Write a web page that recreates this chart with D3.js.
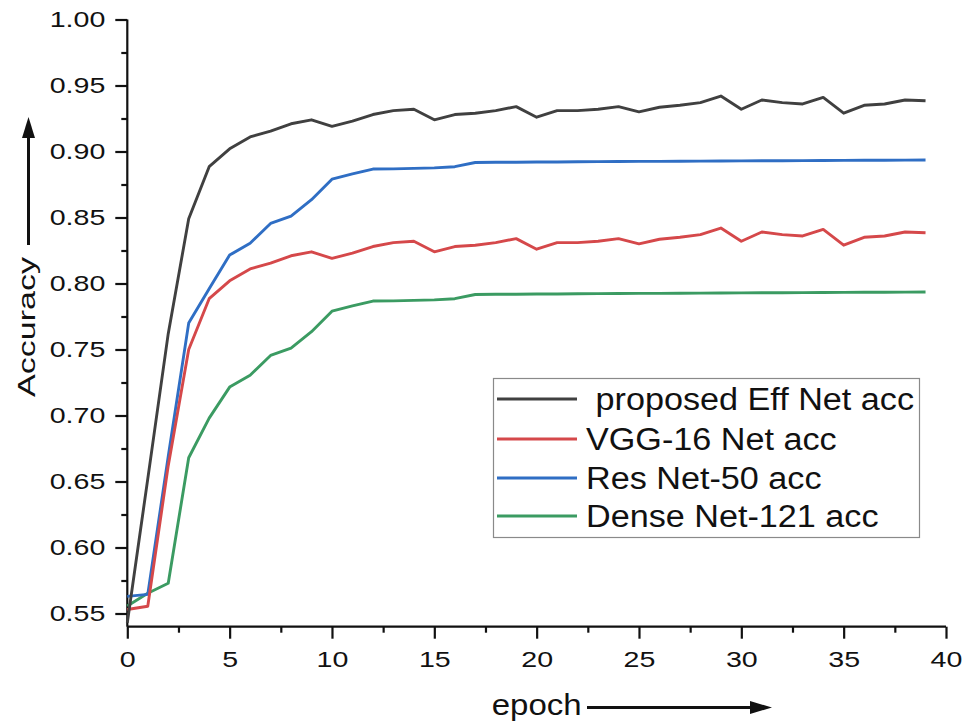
<!DOCTYPE html>
<html>
<head>
<meta charset="utf-8">
<script src="https://cdn.jsdelivr.net/npm/d3@7"></script>
<style>
  html, body { margin: 0; padding: 0; background: #fff; }
  svg { display: block; font-family: "Liberation Sans", Arial, Helvetica, sans-serif; }
</style>
</head>
<body>
<svg id="chart" width="968" height="725"></svg>
<script>
const epochs = d3.range(0, 40);
const seriesNames = [" proposed Eff Net acc", "VGG-16 Net acc", "Res Net-50 acc", "Dense Net-121 acc"];
const seriesColors = ["#404040", "#d5484a", "#2f6ec4", "#3b9b62"];

const effNet = [0.543, 0.652, 0.762, 0.849, 0.8885, 0.902, 0.911, 0.9155, 0.921, 0.924,
  0.919, 0.923, 0.928, 0.931, 0.932, 0.924, 0.928, 0.929, 0.931, 0.934,
  0.926, 0.931, 0.931, 0.932, 0.934, 0.930, 0.9335, 0.935, 0.937, 0.942,
  0.932, 0.939, 0.937, 0.936, 0.941, 0.929, 0.935, 0.936, 0.939, 0.9385];
const vgg16 = [0.553, 0.5555, 0.662, 0.750, 0.7885, 0.802, 0.811, 0.8155, 0.821, 0.824,
  0.819, 0.823, 0.828, 0.831, 0.832, 0.824, 0.828, 0.829, 0.831, 0.834,
  0.826, 0.831, 0.831, 0.832, 0.834, 0.830, 0.8335, 0.835, 0.837, 0.842,
  0.832, 0.839, 0.837, 0.836, 0.841, 0.829, 0.835, 0.836, 0.839, 0.8385];
const resNet50 = [0.563, 0.5645, 0.669, 0.770, 0.796, 0.8215, 0.8305, 0.8455, 0.851, 0.8635,
  0.879, 0.883, 0.8867, 0.8868, 0.8872, 0.8876, 0.8885, 0.8917, 0.8918, 0.8919,
  0.892, 0.8921, 0.8922, 0.8923, 0.8924, 0.8925, 0.8925, 0.8926, 0.8927, 0.8928,
  0.8929, 0.893, 0.893, 0.8931, 0.8932, 0.8933, 0.8934, 0.8934, 0.8935, 0.8936];
const denseNet121 = [0.5557, 0.5653, 0.5729, 0.668, 0.698, 0.7215, 0.7305, 0.7455, 0.751, 0.7635,
  0.779, 0.783, 0.7867, 0.7868, 0.7872, 0.7876, 0.7885, 0.7917, 0.7918, 0.7919,
  0.792, 0.7921, 0.7922, 0.7923, 0.7924, 0.7925, 0.7925, 0.7926, 0.7927, 0.7928,
  0.7929, 0.793, 0.793, 0.7931, 0.7932, 0.7933, 0.7934, 0.7934, 0.7935, 0.7936];

const xMajorTicks = [0, 5, 10, 15, 20, 25, 30, 35, 40];
const xMinorTicks = [2.5, 7.5, 12.5, 17.5, 22.5, 27.5, 32.5, 37.5];
const yMajorTicks = [0.55, 0.60, 0.65, 0.70, 0.75, 0.80, 0.85, 0.90, 0.95, 1.00];
const yMinorTicks = [0.575, 0.625, 0.675, 0.725, 0.775, 0.825, 0.875, 0.925, 0.975];
const xTitle = "epoch";
const yTitle = "Accuracy";

const allSeries = [effNet, vgg16, resNet50, denseNet121];

const svg = d3.select("#chart");
const x = d3.scaleLinear().domain([0, 40]).range([127.3, 946]);
const y = d3.scaleLinear().domain([0.54, 1.0]).range([626.7, 19.5]);

const labelScale = 1.3;

// Y axis
const yAxisG = svg.append("g").attr("transform", `translate(${x(0)},0)`);
yAxisG.call(d3.axisLeft(y).tickValues(yMajorTicks).tickFormat(d3.format(".2f")).tickSize(12).tickPadding(10));
yAxisG.append("g").call(d3.axisLeft(y).tickValues(yMinorTicks).tickFormat("").tickSize(6))
  .select(".domain").remove();
yAxisG.selectAll(".domain").attr("d", `M0,${y(0.54)}V${y(1.0)}`);
yAxisG.selectAll("text")
  .attr("font-size", 22).attr("fill", "#111").attr("font-family", "Liberation Sans, Arial, sans-serif")
  .attr("transform", function() {
    const tx = +d3.select(this).attr("x");
    return `translate(${tx},0) scale(${labelScale},1) translate(${-tx},0)`;
  });

// X axis
const xAxisG = svg.append("g").attr("transform", `translate(0,${y(0.54)})`);
xAxisG.call(d3.axisBottom(x).tickValues(xMajorTicks).tickFormat(d3.format("d")).tickSize(12).tickPadding(13));
xAxisG.append("g").call(d3.axisBottom(x).tickValues(xMinorTicks).tickFormat("").tickSize(6))
  .select(".domain").remove();
xAxisG.selectAll(".domain").attr("d", `M${x(0)},0H${x(40)}`);
xAxisG.selectAll("text")
  .attr("font-size", 22).attr("fill", "#111").attr("font-family", "Liberation Sans, Arial, sans-serif")
  .attr("transform", `scale(${labelScale},1)`);

svg.selectAll(".domain, .tick line").attr("stroke", "#111").attr("stroke-width", 2.2);

// Lines
const line = d3.line().x((d, i) => x(epochs[i])).y(d => y(d));
svg.append("g").selectAll("path")
  .data(allSeries.map((s, i) => ({ s, i })).reverse())
  .join("path")
  .attr("d", d => line(d.s))
  .attr("fill", "none")
  .attr("stroke", d => seriesColors[d.i])
  .attr("stroke-width", 2.9)
  .attr("stroke-linejoin", "round");

// Legend
const lg = svg.append("g");
lg.append("rect").attr("x", 493.5).attr("y", 378.5).attr("width", 426).attr("height", 159)
  .attr("fill", "#fff").attr("stroke", "#8a8a8a").attr("stroke-width", 1.2);
const rowY = [399, 439, 478, 516];
seriesNames.forEach((name, i) => {
  lg.append("line").attr("x1", 497).attr("x2", 577).attr("y1", rowY[i]).attr("y2", rowY[i])
    .attr("stroke", seriesColors[i]).attr("stroke-width", 2.9);
  lg.append("text").attr("x", 0).attr("y", 0)
    .attr("transform", `translate(586,${rowY[i] + 10.7}) scale(1.085,1)`)
    .attr("font-size", 31.5).attr("fill", "#111")
    .style("white-space", "pre")
    .text(name);
});

// X title with arrow
svg.append("text").attr("x", 491.7).attr("y", 715).attr("font-size", 30).attr("fill", "#111")
  .attr("textLength", 90).attr("lengthAdjust", "spacingAndGlyphs").text(xTitle);
svg.append("line").attr("x1", 587).attr("x2", 752).attr("y1", 707.5).attr("y2", 707.5)
  .attr("stroke", "#111").attr("stroke-width", 3);
svg.append("path").attr("d", "M772,707.5 L750,701 L750,714 Z").attr("fill", "#111");

// Y title with arrow
svg.append("text").attr("transform", "translate(34.5,327) rotate(-90)")
  .attr("text-anchor", "middle").attr("font-size", 23).attr("fill", "#111")
  .attr("textLength", 140).attr("lengthAdjust", "spacingAndGlyphs").text(yTitle);
svg.append("line").attr("x1", 28.5).attr("x2", 28.5).attr("y1", 245).attr("y2", 134)
  .attr("stroke", "#111").attr("stroke-width", 3);
svg.append("path").attr("d", "M28.5,117 L22,138 L35,138 Z").attr("fill", "#111");
</script>
</body>
</html>
